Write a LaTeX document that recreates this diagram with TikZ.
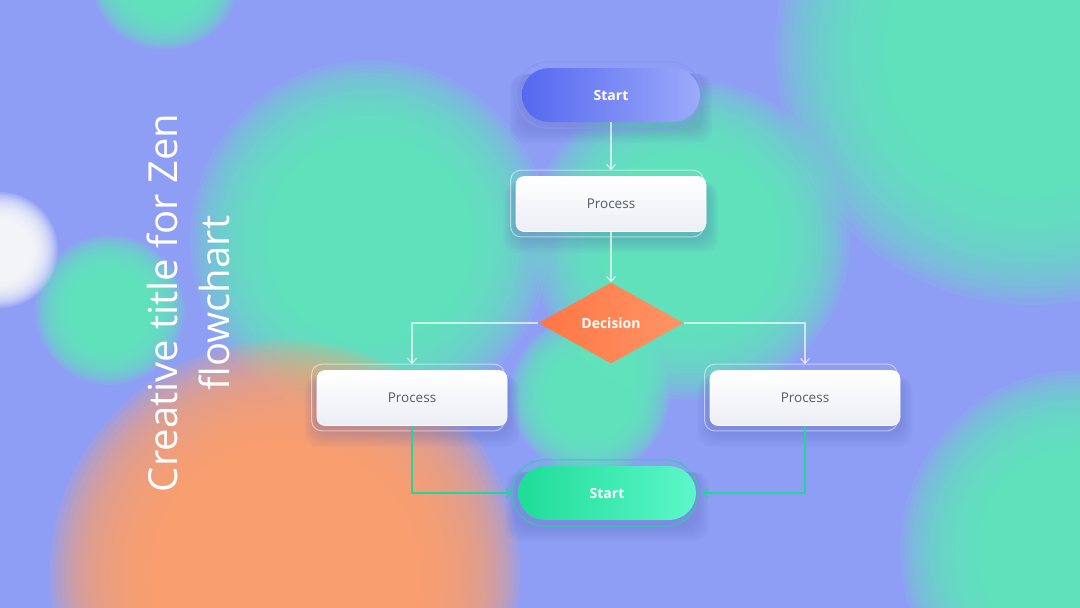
\documentclass[tikz,border=0pt]{standalone}
\usepackage{fontspec}
\setmainfont{Open Sans}
\usepackage{tikz}
\usetikzlibrary{arrows.meta,positioning,shapes.geometric,calc}
\definecolor{zbg}{HTML}{8E9EF5}
\definecolor{zgreen}{HTML}{60EABB}
\definecolor{zorange}{HTML}{FFA06E}
\definecolor{zshadow}{HTML}{5A60B8}
\definecolor{startleft}{HTML}{5568F0}
\definecolor{startright}{HTML}{9CAAF9}
\definecolor{endleft}{HTML}{1FDC98}
\definecolor{endright}{HTML}{5CF7C9}
\definecolor{decleft}{HTML}{FF7644}
\definecolor{decright}{HTML}{FF9466}
\definecolor{procbot}{HTML}{ECEEF6}
\definecolor{proctxt}{HTML}{555A66}
\definecolor{greenline}{HTML}{22D69B}
\pgfdeclarelayer{bg}
\pgfdeclarelayer{rings}
\pgfsetlayers{bg,rings,main}

\begin{document}
\begin{tikzpicture}[x=1pt,y=-1pt,
  pill/.style={rectangle,rounded corners=27pt,minimum width=178pt,minimum height=54pt,
               text=white,font=\bfseries\fontsize{14}{16}\selectfont},
  proc/.style={draw=white,line width=0.6pt,rounded corners=8pt,top color=white,bottom color=procbot,
               minimum width=190pt,minimum height=55pt,text=proctxt,font=\fontsize{13.5}{16}\selectfont},
  dec/.style={diamond,aspect=1.8,minimum width=145pt,minimum height=81pt,inner sep=0pt,
              left color=decleft,right color=decright,text=white,font=\bfseries\fontsize{14}{16}\selectfont},
  ring/.style={draw=white,draw opacity=0.5,line width=1pt},
  arr/.style={-{Straight Barb[length=5pt,width=9pt]},line width=1.2pt,draw=white,draw opacity=0.65},
  garr/.style={arr,draw=greenline,draw opacity=1,shorten >=6pt},
  title/.style={text=white,align=center,font=\fontsize{40}{52}\selectfont}
]
\useasboundingbox (0,0) rectangle (1080,608);

% blurred background: stacked translucent discs
\begin{pgfonlayer}{bg}
  \fill[zbg] (0,0) rectangle (1080,608);
  \begin{scope}
    \clip (0,0) rectangle (1080,608);
    \foreach \x/\y/\r/\c/\o in {165/-25/75/zgreen/0.12, 370/240/180/zgreen/0.12, 690/240/160/zgreen/0.12,
        1030/50/255/zgreen/0.12, 1080/550/180/zgreen/0.12, 110/310/75/zgreen/0.12, 590/395/80/zgreen/0.12,
        285/575/235/zorange/0.16, 0/250/58/white/0.12}
      \foreach \k in {0,...,19}
        \fill[\c,opacity=\o] (\x,\y) circle[radius={\r*(0.55+0.0237*\k)*1pt}];
  \end{scope}
\end{pgfonlayer}

\node[title,rotate=90] (ttl) at (188,303) {Creative title for Zen\\flowchart};

\node[pill,left color=startleft,right color=startright] (s1) at (611,95) {Start};
\node[proc] (p1) at (611,204) {Process};
\node[dec] (d1) at (611,323) {Decision};
\node[proc] (p2) at (412,398) {Process};
\node[proc] (p3) at (805,398) {Process};
\node[pill,left color=endleft,right color=endright] (s2) at (607,493) {Start};

% soft shadows and outer rings
\begin{pgfonlayer}{rings}
  \foreach \n in {s1,p1,p2,p3,s2}
    \foreach \k in {1,...,6}
      \fill[zshadow,opacity=0.05,rounded corners=14pt]
        ($(\n.north west)+({-2*\k},6)$) rectangle ($(\n.south east)+({2*\k},{6+2.5*\k})$);
  \draw[ring,draw=startleft!70!white,draw opacity=0.9,rounded corners=33pt]
    ($(s1.north west)+(-6,-6)$) rectangle ($(s1.south east)+(2,6)$);
  \draw[ring,draw=greenline,draw opacity=0.9,rounded corners=33pt]
    ($(s2.north west)+(-6,-6)$) rectangle ($(s2.south east)+(2,6)$);
  \draw[ring,rounded corners=10pt] ($(p1.north west)+(-5,-6)$) rectangle ($(p1.south east)+(-3,5)$);
  \draw[ring,rounded corners=10pt] ($(p2.north west)+(-5,-6)$) rectangle ($(p2.south east)+(-3,5)$);
  \draw[ring,rounded corners=10pt] ($(p3.north west)+(-5,-6)$) rectangle ($(p3.south east)+(-3,5)$);
\end{pgfonlayer}

\draw[arr,shorten >=6pt] (s1) -- (p1);
\draw[arr] (p1) -- (d1);
\draw[arr,shorten >=6pt] (d1.west) -| (p2.north);
\draw[arr,shorten >=6pt] (d1.east) -| (p3.north);
\draw[garr] (p2.south) |- (s2.west);
\draw[garr] (p3.south) |- (s2.east);
\end{tikzpicture}
\end{document}
